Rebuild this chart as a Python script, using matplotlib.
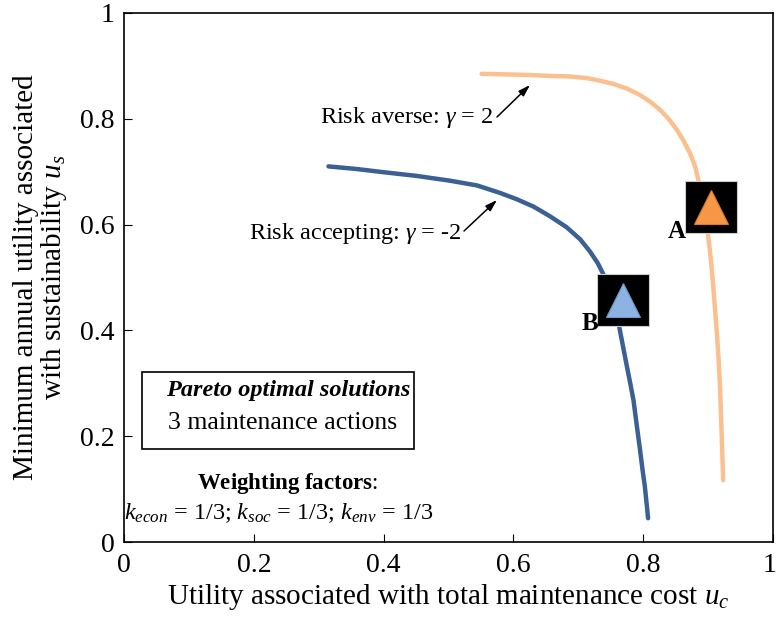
import matplotlib
matplotlib.use('Agg')
import matplotlib.pyplot as plt
from matplotlib.patches import Rectangle
from matplotlib.transforms import ScaledTranslation

plt.rcParams['font.family'] = ['Liberation Serif', 'DejaVu Serif']
plt.rcParams['mathtext.fontset'] = 'custom'
plt.rcParams['mathtext.rm'] = 'Liberation Serif'
plt.rcParams['mathtext.it'] = 'Liberation Serif:italic'
plt.rcParams['mathtext.bf'] = 'Liberation Serif:bold'

# Pareto fronts
# risk averse (gamma = 2)
averse_uc = [0.551, 0.584, 0.621, 0.656, 0.687, 0.713, 0.733, 0.754, 0.775,
             0.795, 0.811, 0.826, 0.839, 0.852, 0.862, 0.872, 0.880, 0.885,
             0.892, 0.8995, 0.904, 0.9075, 0.9105, 0.9135, 0.916, 0.918, 0.9195,
             0.9208, 0.9219, 0.9232]
averse_us = [0.885, 0.884, 0.883, 0.881, 0.880, 0.877, 0.872, 0.866, 0.857,
             0.845, 0.832, 0.817, 0.800, 0.779, 0.759, 0.735, 0.710, 0.684,
             0.633, 0.584, 0.537, 0.490, 0.442, 0.395, 0.348, 0.301, 0.253,
             0.206, 0.165, 0.117]
# risk accepting (gamma = -2)
accept_uc = [0.315, 0.359, 0.400, 0.451, 0.502, 0.544, 0.579, 0.605, 0.631,
             0.656, 0.682, 0.703, 0.718, 0.730, 0.739, 0.752, 0.763, 0.769,
             0.775, 0.780, 0.785, 0.790, 0.7951, 0.7990, 0.8025, 0.8052, 0.8075]
accept_us = [0.710, 0.705, 0.699, 0.692, 0.683, 0.674, 0.660, 0.648, 0.634,
             0.616, 0.595, 0.572, 0.549, 0.527, 0.505, 0.458, 0.407, 0.369,
             0.331, 0.300, 0.268, 0.221, 0.174, 0.136, 0.105, 0.073, 0.045]

# selected solutions A and B
sel_names = ['A', 'B']
sel_uc = [0.9045, 0.769]
sel_us = [0.633, 0.458]
sel_colors = ['#F79646', '#8DB3E2']
sel_edges = ['#E07A2E', '#6F96C8']

ticks = [0, 0.2, 0.4, 0.6, 0.8, 1]
tick_labels = ['0', '0.2', '0.4', '0.6', '0.8', '1']

fig = plt.figure(figsize=(7.78, 6.24), dpi=100)
ax = fig.add_axes([0.1594, 0.1314, 0.8342, 0.8478])

ax.plot(averse_uc, averse_us, color='#FAC08F', lw=3.2, solid_capstyle='round',
        solid_joinstyle='round', zorder=2)
ax.plot(accept_uc, accept_us, color='#3A6094', lw=3.2, solid_capstyle='round',
        solid_joinstyle='round', zorder=2)

for name, x, y, c, ec in zip(sel_names, sel_uc, sel_us, sel_colors, sel_edges):
    ax.plot(x, y, marker='s', ms=37, color='black', mec='#CCCCCC', mew=0.8, zorder=3)
    ax.plot(x, y, marker='^', ms=25, color=c, mec=ec, mew=0.8, zorder=4)
    ax.annotate(name, (x, y), xytext=(-18, -22), textcoords='offset points',
                ha='right', va='baseline', fontsize=18, fontweight='bold')

# gamma annotations
arrow = dict(arrowstyle='-|>,head_length=0.7,head_width=0.22',
             color='black', lw=1.1, shrinkA=0, shrinkB=0)
ax.text(0.5686, 0.8015, r'Risk averse: $\gamma$ = 2', ha='right', va='center', fontsize=17.5)
ax.annotate('', xy=(0.6256, 0.8639), xytext=(0.5747, 0.8034), arrowprops=arrow)
ax.text(0.5208, 0.5841, r'Risk accepting: $\gamma$ = -2', ha='right', va='center', fontsize=17.5)
ax.annotate('', xy=(0.5747, 0.6465), xytext=(0.5239, 0.5879), arrowprops=arrow)

# info box
ax.add_patch(Rectangle((0.0277, 0.1758), 0.4191, 0.1456, transform=ax.transAxes,
                       fill=False, edgecolor='black', lw=1.2, zorder=5))
ax.text(0.2527, 0.2873, 'Pareto optimal solutions', transform=ax.transAxes,
        ha='center', va='center', fontsize=17.5, fontweight='bold', style='italic')
ax.text(0.245, 0.225, '3 maintenance actions', transform=ax.transAxes,
        ha='center', va='center', fontsize=18.5)
ax.text(0.2512, 0.1115, r'$\mathbf{Weighting\ factors}$:', transform=ax.transAxes,
        ha='center', va='center', fontsize=16.5)
ax.text(0.238, 0.0548, r'$k_{econ}$ = 1/3; $k_{soc}$ = 1/3; $k_{env}$ = 1/3',
        transform=ax.transAxes, ha='center', va='center', fontsize=17.5)

ax.set_xlim(0, 1)
ax.set_ylim(0, 1)
ax.set_xticks(ticks)
ax.set_xticklabels(tick_labels)
ax.set_yticks(ticks)
ax.set_yticklabels(tick_labels)
ax.tick_params(direction='in', length=6, width=0.8, labelsize=20)
ax.tick_params(axis='x', pad=8)
ax.tick_params(axis='y', pad=7)
for s in ax.spines.values():
    s.set_linewidth(1.2)

# nudge the last x tick label so it stays inside the figure
last = ax.get_xticklabels()[-1]
last.set_transform(last.get_transform() + ScaledTranslation(-2.5 / 72, 0, fig.dpi_scale_trans))

ax.set_xlabel('Utility associated with total maintenance cost $u_c$', fontsize=21, labelpad=3)
ax.set_ylabel('Minimum annual utility associated\nwith sustainability $u_s$', fontsize=21,
              labelpad=8, linespacing=1.0)

fig.savefig('out.png', dpi=100)
